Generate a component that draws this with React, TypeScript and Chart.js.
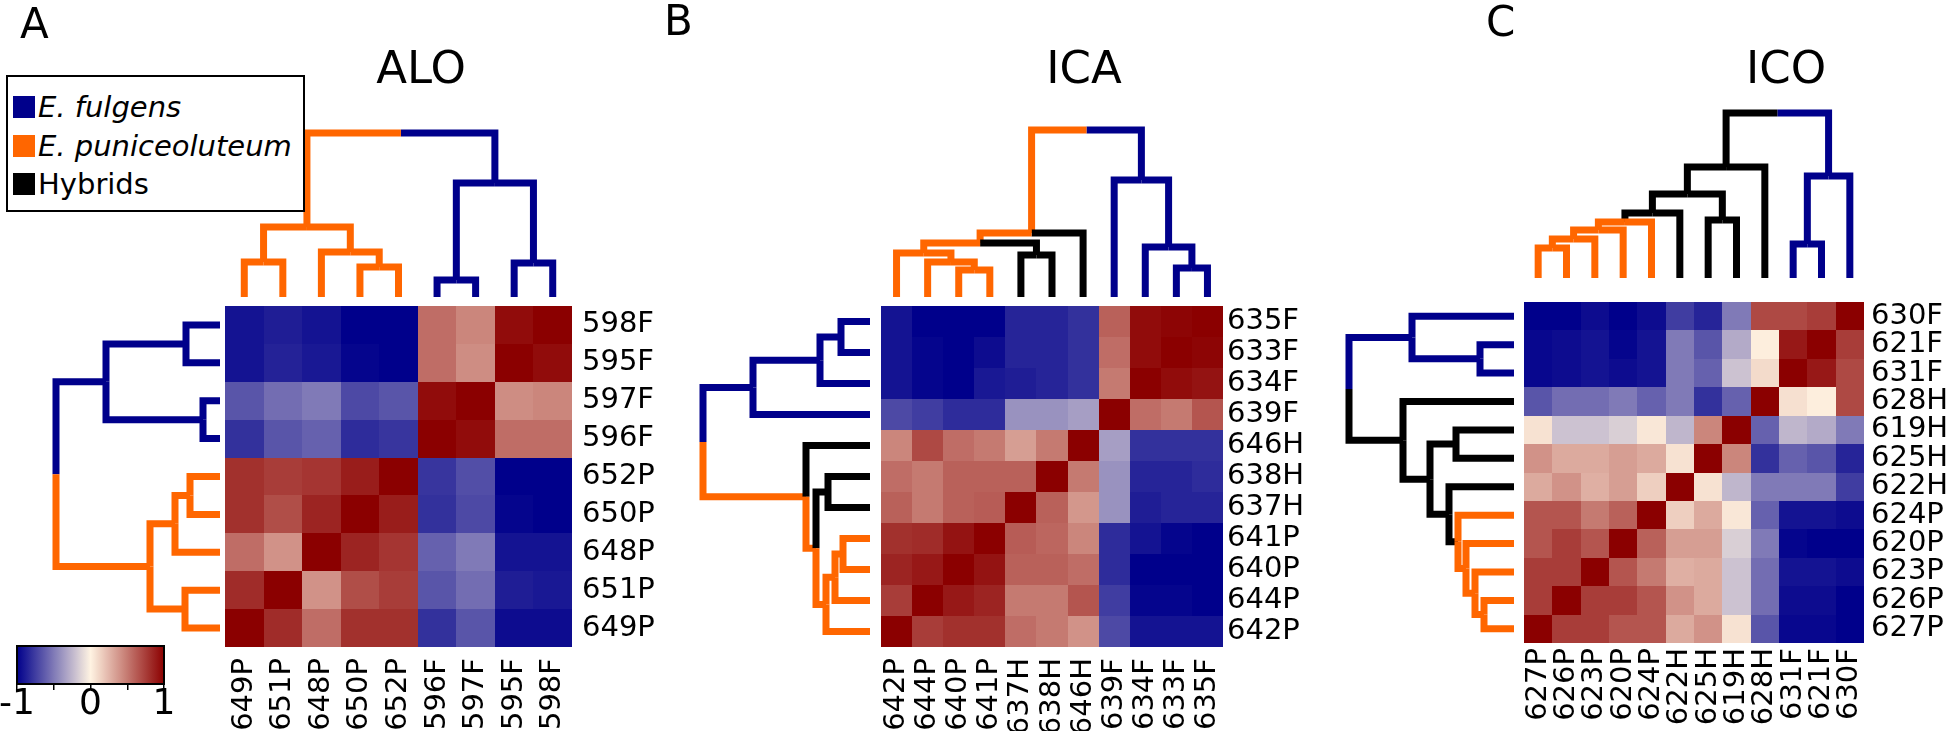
import React, { useEffect, useRef } from 'react';
import { Chart, registerables } from 'chart.js';

Chart.register(...registerables);
Chart.defaults.font.family = "'DejaVu Sans', Verdana, sans-serif";
Chart.defaults.color = '#000';

// ---------------- DATA ----------------
// Panel A – ALO
const ALO_COLS = ['649P', '651P', '648P', '650P', '652P', '596F', '597F', '595F', '598F'];
const ALO_ROWS = ['598F', '595F', '597F', '596F', '652P', '650P', '648P', '651P', '649P'];
const ALO_VALUES = [
  [-0.92, -0.88, -0.92, -1, -1, 0.55, 0.45, 0.95, 1],
  [-0.92, -0.86, -0.9, -0.98, -1, 0.55, 0.42, 1, 0.95],
  [-0.65, -0.55, -0.5, -0.7, -0.65, 0.95, 1, 0.42, 0.45],
  [-0.8, -0.65, -0.6, -0.82, -0.78, 1, 0.95, 0.55, 0.55],
  [0.8, 0.75, 0.78, 0.88, 1, -0.78, -0.68, -1, -1],
  [0.8, 0.68, 0.85, 1, 0.88, -0.8, -0.7, -0.98, -1],
  [0.55, 0.4, 1, 0.85, 0.78, -0.6, -0.5, -0.92, -0.92],
  [0.82, 1, 0.4, 0.68, 0.75, -0.65, -0.55, -0.88, -0.9],
  [1, 0.82, 0.55, 0.8, 0.8, -0.8, -0.65, -0.95, -0.95],
];
// merges: [childA, childB, distance] (leaf ids = column index, node ids = n + k)
const ALO_MERGES = [[0, 1, 35], [3, 4, 30], [2, 10, 45], [9, 11, 70], [5, 6, 17], [7, 8, 34], [13, 14, 114], [12, 15, 164]];
const ALO_GROUPS = ['P', 'P', 'P', 'P', 'F', 'F', 'F', 'P|F'];

// Panel B – ICA
const ICA_COLS = ['642P', '644P', '640P', '641P', '637H', '638H', '646H', '639F', '634F', '633F', '635F'];
const ICA_ROWS = ['635F', '633F', '634F', '639F', '646H', '638H', '637H', '641P', '640P', '644P', '642P'];
const ICA_VALUES = [
  [-0.92, -1, -1, -1, -0.85, -0.85, -0.8, 0.6, 0.95, 0.98, 1],
  [-0.92, -0.98, -1, -0.95, -0.85, -0.85, -0.8, 0.55, 0.95, 1, 0.98],
  [-0.92, -0.98, -1, -0.9, -0.88, -0.85, -0.8, 0.5, 1, 0.95, 0.92],
  [-0.7, -0.75, -0.82, -0.82, -0.4, -0.4, -0.35, 1, 0.55, 0.5, 0.65],
  [0.45, 0.7, 0.55, 0.5, 0.35, 0.5, 1, -0.35, -0.8, -0.8, -0.8],
  [0.55, 0.5, 0.6, 0.6, 0.6, 1, 0.5, -0.4, -0.85, -0.85, -0.82],
  [0.6, 0.5, 0.6, 0.62, 1, 0.6, 0.38, -0.4, -0.88, -0.85, -0.85],
  [0.8, 0.82, 0.92, 1, 0.62, 0.58, 0.45, -0.82, -0.92, -0.98, -1],
  [0.85, 0.9, 1, 0.92, 0.6, 0.6, 0.55, -0.82, -1, -1, -1],
  [0.75, 1, 0.9, 0.85, 0.5, 0.5, 0.65, -0.75, -0.98, -0.98, -1],
  [1, 0.75, 0.8, 0.8, 0.55, 0.5, 0.4, -0.7, -0.92, -0.92, -0.92],
];
const ICA_MERGES = [[2, 3, 27], [1, 11, 35], [0, 12, 44], [4, 5, 42], [13, 14, 54], [15, 6, 64], [9, 10, 29], [8, 17, 50], [7, 18, 117], [16, 19, 167]];
const ICA_GROUPS = ['P', 'P', 'P', 'H', 'P|H', 'P|H', 'F', 'F', 'F', 'P|F'];

// Panel C – ICO
const ICO_COLS = ['627P', '626P', '623P', '620P', '624P', '622H', '625H', '619H', '628H', '631F', '621F', '630F'];
const ICO_ROWS = ['630F', '621F', '631F', '628H', '619H', '625H', '622H', '624P', '620P', '623P', '626P', '627P'];
const ICO_VALUES = [
  [-1, -1, -0.95, -1, -0.95, -0.75, -0.85, -0.5, 0.7, 0.7, 0.75, 1],
  [-0.97, -0.95, -0.92, -0.98, -0.92, -0.5, -0.65, -0.3, 0.02, 0.9, 1, 0.75],
  [-0.97, -0.95, -0.92, -0.95, -0.92, -0.5, -0.6, -0.2, 0.1, 1, 0.9, 0.7],
  [-0.65, -0.55, -0.55, -0.5, -0.6, -0.5, -0.8, -0.6, 1, 0.08, 0.02, 0.7],
  [0.07, -0.2, -0.2, -0.15, 0.05, -0.25, 0.45, 1, -0.6, -0.25, -0.3, -0.5],
  [0.4, 0.3, 0.3, 0.35, 0.3, 0.07, 1, 0.45, -0.8, -0.6, -0.65, -0.85],
  [0.3, 0.4, 0.28, 0.35, 0.15, 1, 0.07, -0.25, -0.5, -0.5, -0.5, -0.75],
  [0.65, 0.65, 0.5, 0.6, 1, 0.15, 0.3, 0.05, -0.6, -0.92, -0.92, -0.95],
  [0.65, 0.75, 0.65, 1, 0.6, 0.35, 0.35, -0.15, -0.5, -0.98, -1, -1],
  [0.75, 0.75, 1, 0.65, 0.5, 0.28, 0.3, -0.2, -0.55, -0.92, -0.92, -0.95],
  [0.75, 1, 0.75, 0.75, 0.65, 0.4, 0.3, -0.2, -0.55, -0.95, -0.95, -1],
  [1, 0.75, 0.75, 0.65, 0.65, 0.3, 0.4, 0.07, -0.65, -0.97, -0.97, -1],
];
const ICO_MERGES = [[0, 1, 30], [12, 2, 39], [13, 3, 48], [14, 4, 56], [15, 5, 65], [6, 7, 58], [16, 17, 84], [18, 8, 111], [9, 10, 34], [20, 11, 102], [19, 21, 165]];
const ICO_GROUPS = ['P', 'P', 'P', 'P', 'H', 'H', 'H', 'H', 'F', 'F', 'H|F'];

const COLORBAR_TICKS = [-1, -0.5, 0, 0.5, 1];
const LEGEND_ITEMS = [
  { label: 'E. fulgens', group: 'F', italic: true },
  { label: 'E. puniceoluteum', group: 'P', italic: true },
  { label: 'Hybrids', group: 'H', italic: false },
];

// ---------------- STYLE ----------------
const GROUP_COLORS: Record<string, string> = { P: '#FF6600', F: '#00008B', H: '#000000' };
const CMAP: [number, number[]][] = [
  [-1, [0, 0, 139]],
  [0, [255, 243, 226]],
  [1, [139, 0, 0]],
];
function colorFor(v: number): string {
  const t = Math.max(-1, Math.min(1, v));
  for (let i = 0; i < CMAP.length - 1; i++) {
    const [a, ca] = CMAP[i];
    const [b, cb] = CMAP[i + 1];
    if (t >= a && t <= b) {
      const f = (t - a) / (b - a);
      const c = ca.map((x, k) => Math.round(x + (cb[k] - x) * f));
      return `rgb(${c[0]},${c[1]},${c[2]})`;
    }
  }
  return 'rgb(139,0,0)';
}

const FONT = "'DejaVu Sans', Verdana, sans-serif";
const H = 731;
const LINE_W = 7;

type PanelCfg = {
  cols: string[]; rows: string[]; values: number[][]; merges: number[][]; groups: string[];
  canvasLeft: number; canvasW: number;
  hmLeft: number; hmRight: number; hmTop: number; hmBottom: number; // page px
  caLeft: number; caTop: number; // page px
  gapTop: number; gapLeft: number; padX: number; padY: number;
};

const PANELS: PanelCfg[] = [
  { cols: ALO_COLS, rows: ALO_ROWS, values: ALO_VALUES, merges: ALO_MERGES, groups: ALO_GROUPS,
    canvasLeft: 0, canvasW: 690, hmLeft: 225, hmRight: 572, hmTop: 306, hmBottom: 647,
    caLeft: 40, caTop: 120, gapTop: 9, gapLeft: 5, padX: 11, padY: 10 },
  { cols: ICA_COLS, rows: ICA_ROWS, values: ICA_VALUES, merges: ICA_MERGES, groups: ICA_GROUPS,
    canvasLeft: 690, canvasW: 640, hmLeft: 881, hmRight: 1223, hmTop: 306, hmBottom: 647,
    caLeft: 695, caTop: 120, gapTop: 9, gapLeft: 11, padX: 11, padY: 4 },
  { cols: ICO_COLS, rows: ICO_ROWS, values: ICO_VALUES, merges: ICO_MERGES, groups: ICO_GROUPS,
    canvasLeft: 1330, canvasW: 616, hmLeft: 1524, hmRight: 1864, hmTop: 302, hmBottom: 643,
    caLeft: 1340, caTop: 100, gapTop: 24, gapLeft: 10, padX: 5, padY: 7 },
];

type Link = { xa: number; ha: number; xb: number; hb: number; h: number; group: string };
function buildLinks(merges: number[][], groups: string[], n: number): Link[] {
  const pos: number[] = [];
  const hgt: number[] = [];
  for (let i = 0; i < n; i++) { pos[i] = i; hgt[i] = 0; }
  const links: Link[] = [];
  merges.forEach(([a, b, h], k) => {
    links.push({ xa: pos[a], ha: hgt[a], xb: pos[b], hb: hgt[b], h, group: groups[k] });
    pos[n + k] = (pos[a] + pos[b]) / 2;
    hgt[n + k] = h;
  });
  return links;
}

function lineDs(points: { x: number; y: number }[], color: string) {
  return {
    data: points, showLine: true, borderColor: color, backgroundColor: color, borderWidth: LINE_W,
    pointRadius: 0, pointHoverRadius: 0, fill: false, tension: 0, clip: false as any,
    borderCapStyle: 'butt' as const, borderJoinStyle: 'miter' as const,
  };
}

function makeConfig(p: PanelCfg): any {
  const n = p.cols.length;
  const cellW = (p.hmRight - p.hmLeft) / n;
  const cellH = (p.hmBottom - p.hmTop) / n;
  const xMin = -0.5 - (p.hmLeft - p.caLeft) / cellW;
  const yMin = -0.5 - (p.hmTop - p.caTop) / cellH;
  const yAxisW = p.canvasLeft + p.canvasW - p.hmRight;
  const xAxisH = H - p.hmBottom;
  const links = buildLinks(p.merges, p.groups, n);

  const topY = (h: number) => -0.5 - (p.gapTop + h) / cellH;
  const leftX = (h: number) => -0.5 - (p.gapLeft + h) / cellW;
  const datasets: any[] = [];
  links.forEach((l) => {
    const [gl, gr] = l.group.includes('|') ? l.group.split('|') : [l.group, l.group];
    const mid = (l.xa + l.xb) / 2;
    // top dendrogram (columns)
    datasets.push(lineDs([{ x: l.xa, y: topY(l.ha) }, { x: l.xa, y: topY(l.h) }, { x: mid, y: topY(l.h) }], GROUP_COLORS[gl]));
    datasets.push(lineDs([{ x: mid, y: topY(l.h) }, { x: l.xb, y: topY(l.h) }, { x: l.xb, y: topY(l.hb) }], GROUP_COLORS[gr]));
    // left dendrogram (rows are the reversed column order)
    const ra = n - 1 - l.xa, rb = n - 1 - l.xb, rm = n - 1 - mid;
    datasets.push(lineDs([{ x: leftX(l.ha), y: ra }, { x: leftX(l.h), y: ra }, { x: leftX(l.h), y: rm }], GROUP_COLORS[gl]));
    datasets.push(lineDs([{ x: leftX(l.h), y: rm }, { x: leftX(l.h), y: rb }, { x: leftX(l.hb), y: rb }], GROUP_COLORS[gr]));
  });

  const heatmap = {
    id: 'heatmapCells',
    beforeDatasetsDraw(chart: any) {
      const { ctx, scales } = chart;
      const xs = scales.x, ys = scales.y;
      ctx.save();
      p.values.forEach((row, r) => row.forEach((v, c) => {
        const x0 = Math.round(xs.getPixelForValue(c - 0.5));
        const x1 = Math.round(xs.getPixelForValue(c + 0.5));
        const ya = ys.getPixelForValue(r - 0.5), yb = ys.getPixelForValue(r + 0.5);
        const y0 = Math.round(Math.min(ya, yb)), y1 = Math.round(Math.max(ya, yb));
        ctx.fillStyle = colorFor(v);
        ctx.fillRect(x0, y0, x1 - x0, y1 - y0);
      }));
      ctx.restore();
    },
  };

  return {
    type: 'scatter',
    data: { datasets },
    plugins: [heatmap],
    options: {
      animation: false,
      responsive: false,
      maintainAspectRatio: false,
      events: [],
      layout: { padding: { left: p.caLeft - p.canvasLeft, top: p.caTop, right: 0, bottom: 0 } },
      plugins: { legend: { display: false }, tooltip: { enabled: false }, title: { display: false } },
      scales: {
        x: {
          type: 'linear', position: 'bottom', min: xMin, max: n - 0.5,
          grid: { display: false, drawTicks: false, tickLength: 0 },
          border: { display: false },
          ticks: {
            autoSkip: false, minRotation: 90, maxRotation: 90, padding: p.padX, color: '#000',
            font: { family: FONT, size: 29 },
            callback: (v: number) => p.cols[Math.round(v)] ?? '',
          },
          afterBuildTicks: (s: any) => { s.ticks = p.cols.map((_, i) => ({ value: i })); },
          afterFit: (s: any) => { s.height = xAxisH; },
        },
        y: {
          type: 'linear', position: 'right', reverse: true, min: yMin, max: n - 0.5,
          grid: { display: false, drawTicks: false, tickLength: 0 },
          border: { display: false },
          ticks: {
            autoSkip: false, padding: p.padY, color: '#000',
            font: { family: FONT, size: 29 },
            callback: (v: number) => p.rows[Math.round(v)] ?? '',
          },
          afterBuildTicks: (s: any) => { s.ticks = p.rows.map((_, i) => ({ value: i })); },
          afterFit: (s: any) => { s.width = yAxisW; },
        },
      },
    },
  };
}

function HeatPanel({ cfg }: { cfg: PanelCfg }) {
  const ref = useRef<HTMLCanvasElement>(null);
  useEffect(() => {
    const chart = new Chart(ref.current!, makeConfig(cfg));
    return () => chart.destroy();
  }, [cfg]);
  return (
    <canvas ref={ref} width={cfg.canvasW} height={H}
      style={{ position: 'absolute', left: cfg.canvasLeft, top: 0, width: cfg.canvasW, height: H }} />
  );
}

function ColorBar() {
  const ref = useRef<HTMLCanvasElement>(null);
  useEffect(() => {
    const gradient = {
      id: 'cbarGradient',
      afterDraw(chart: any) {
        const { ctx, chartArea: a, scales } = chart;
        const xs = scales.x;
        const g = ctx.createLinearGradient(a.left, 0, a.right, 0);
        for (let i = 0; i <= 40; i++) {
          const v = -1 + (2 * i) / 40;
          g.addColorStop((xs.getPixelForValue(v) - a.left) / (a.right - a.left), colorFor(v));
        }
        ctx.save();
        ctx.fillStyle = g;
        ctx.fillRect(a.left, a.top, a.right - a.left, a.bottom - a.top);
        ctx.strokeStyle = '#000';
        ctx.lineWidth = 2;
        ctx.strokeRect(a.left, a.top, a.right - a.left, a.bottom - a.top);
        ctx.restore();
      },
    };
    const chart = new Chart(ref.current!, {
      type: 'scatter',
      data: { datasets: [] },
      plugins: [gradient],
      options: {
        animation: false, responsive: false, maintainAspectRatio: false, events: [],
        layout: { padding: { left: 17, top: 16, right: 36, bottom: 0 } },
        plugins: { legend: { display: false }, tooltip: { enabled: false } },
        scales: {
          x: {
            type: 'linear', min: -1, max: 1, position: 'bottom',
            grid: { display: true, drawOnChartArea: false, drawTicks: true, tickLength: 6, color: '#000', lineWidth: 1.5 },
            border: { display: false },
            ticks: {
              autoSkip: false, maxRotation: 0, minRotation: 0, padding: -7, color: '#000',
              font: { family: FONT, size: 36 },
              callback: (v: number) => (Number.isInteger(v) ? String(v) : ''),
            },
            afterBuildTicks: (s: any) => { s.ticks = COLORBAR_TICKS.map((v) => ({ value: v })); },
            afterFit: (s: any) => { s.height = 47; },
          },
          y: { display: false, min: 0, max: 1 },
        },
      } as any,
    });
    return () => chart.destroy();
  }, []);
  return <canvas ref={ref} width={200} height={101} style={{ position: 'absolute', left: 0, top: 630, width: 200, height: 101 }} />;
}

const textBase: React.CSSProperties = { position: 'absolute', fontFamily: FONT, color: '#000', whiteSpace: 'nowrap' };

export default function App() {
  return (
    <div style={{ position: 'fixed', left: 0, top: 0, width: 1946, height: H, background: '#fff', overflow: 'hidden' }}>
      {PANELS.map((p, i) => <HeatPanel key={i} cfg={p} />)}
      <ColorBar />
      {/* panel letters */}
      <div style={{ ...textBase, left: 20, top: 3, fontSize: 42, lineHeight: '42px' }}>A</div>
      <div style={{ ...textBase, left: 664, top: 0, fontSize: 42, lineHeight: '42px' }}>B</div>
      <div style={{ ...textBase, left: 1486, top: 1, fontSize: 42, lineHeight: '42px' }}>C</div>
      {/* titles */}
      <div style={{ ...textBase, left: 321, width: 200, textAlign: 'center', top: 45, fontSize: 45, lineHeight: '45px' }}>ALO</div>
      <div style={{ ...textBase, left: 984, width: 200, textAlign: 'center', top: 45, fontSize: 45, lineHeight: '45px' }}>ICA</div>
      <div style={{ ...textBase, left: 1686, width: 200, textAlign: 'center', top: 45, fontSize: 45, lineHeight: '45px' }}>ICO</div>
      {/* legend */}
      <div style={{ position: 'absolute', left: 6, top: 75, width: 299, height: 137, boxSizing: 'border-box', border: '2px solid #000', background: '#fff' }}>
        {LEGEND_ITEMS.map((it, i) => (
          <div key={it.label} style={{ position: 'absolute', left: 5, top: 15 + i * 38.5, height: 30, display: 'flex', alignItems: 'center' }}>
            <div style={{ width: 22, height: 22, background: GROUP_COLORS[it.group] }} />
            <span style={{ fontFamily: FONT, fontSize: 29, lineHeight: '30px', fontStyle: it.italic ? 'italic' : 'normal', marginLeft: 3, whiteSpace: 'nowrap' }}>{it.label}</span>
          </div>
        ))}
      </div>
    </div>
  );
}
